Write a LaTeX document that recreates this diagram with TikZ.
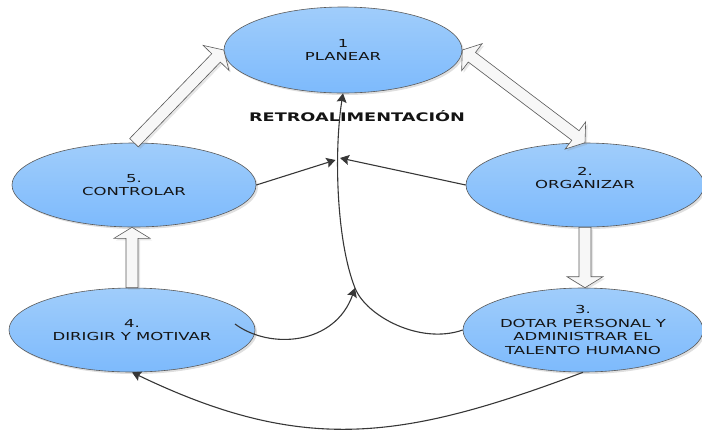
\documentclass[tikz,border=0pt]{standalone}
\usepackage{fontspec}
\setmainfont{DejaVu Sans}[FakeStretch=1.5]
\usetikzlibrary{arrows.meta,calc,shapes.geometric,shadows}
\definecolor{elltop}{RGB}{160,205,251}
\definecolor{ellbot}{RGB}{125,186,252}
\definecolor{rim}{RGB}{90,90,90}
\definecolor{wire}{RGB}{55,55,55}
\definecolor{ink}{RGB}{20,20,20}

% hollow block arrow from #1 to #2
\newcommand{\blkarrow}[2]{%
  \coordinate (hb) at ($(#2)!11bp!(#1)$);
  \draw[blkarrow] ($(#1)!6bp!90:(#2)$) -- ($(hb)!6bp!90:(#2)$) -- ($(hb)!18bp!90:(#2)$) -- (#2)
    -- ($(hb)!18bp!-90:(#2)$) -- ($(hb)!6bp!-90:(#2)$) -- ($(#1)!6bp!-90:(#2)$) -- cycle;
}
% hollow block arrow with two heads
\newcommand{\blkdarrow}[2]{%
  \coordinate (ha) at ($(#1)!12bp!(#2)$);
  \coordinate (hb) at ($(#2)!12bp!(#1)$);
  \draw[blkarrow] (#1) -- ($(ha)!17bp!90:(#2)$) -- ($(ha)!6bp!90:(#2)$) -- ($(hb)!6bp!90:(#2)$)
    -- ($(hb)!17bp!90:(#2)$) -- (#2) -- ($(hb)!17bp!-90:(#2)$) -- ($(hb)!6bp!-90:(#2)$)
    -- ($(ha)!6bp!-90:(#2)$) -- ($(ha)!17bp!-90:(#2)$) -- cycle;
}

\begin{document}
\begin{tikzpicture}[x=1bp,y=-1bp,font=\fontsize{11bp}{13.7bp}\selectfont,
  phase/.style={ellipse, draw=rim, line width=.6bp, top color=elltop, bottom color=ellbot,
    minimum width=240bp, minimum height=84bp, inner sep=0pt, align=center, text=ink,
    drop shadow={shadow xshift=2bp, shadow yshift=-2bp, opacity=.25}},
  blkarrow/.style={draw=rim, line width=.6bp, fill=gray!6,
    drop shadow={shadow xshift=2bp, shadow yshift=-2bp, opacity=.2}},
  wire/.style={draw=wire, line width=1.1bp, -{Stealth[length=9bp,width=10bp,inset=1.5bp]}}]
\useasboundingbox (0,0) rectangle (702,430);

% phases
\node[phase, minimum height=86bp, minimum width=238bp] (plan) at (343,50) {1\\PLANEAR};
\node[phase, minimum width=244bp] (ctl) at (134,185) {5.\\CONTROLAR};
\node[phase, minimum width=238bp, text depth=14bp] (org) at (585,185) {2.\\ORGANIZAR};
\node[phase, minimum width=246bp] (dir) at (132,330) {4.\\DIRIGIR Y MOTIVAR};
\node[phase] (dot) at (583,330) {3.\\DOTAR PERSONAL Y\\ADMINISTRAR EL\\TALENTO HUMANO};
\node[font=\fontsize{11.8bp}{14bp}\selectfont\bfseries, text=ink] (retro) at (357,116) {RETROALIMENTACIÓN};

\coordinate (join) at (355,288);
\coordinate (fbl) at (335.5,160);
\coordinate (fbr) at (340,158);
\coordinate (dirout) at (235,324);
\coordinate (dotin) at (dot.north -| org.south);
\coordinate (ctlin) at (ctl.south -| dir.north);

% block arrows
\blkarrow{ctl.north}{plan.west}
\blkdarrow{plan.east}{org.north}
\blkarrow{org.south}{dotin}
\blkarrow{dir.north}{ctlin}

% feedback lines
\draw[wire] (ctl.east) -- (fbl);
\draw[wire] (org.west) -- (fbr);
\draw[wire] (dot.west) .. controls (420,345) and (366,316) .. (join) .. controls (336,240) and (334,150) .. (plan.south);
\draw[wire] (dirout) .. controls (270,350) and (335,345) .. (join);
\draw[wire] (dot.south) .. controls (403,440) and (304,455) .. (dir.south);
\end{tikzpicture}
\end{document}
